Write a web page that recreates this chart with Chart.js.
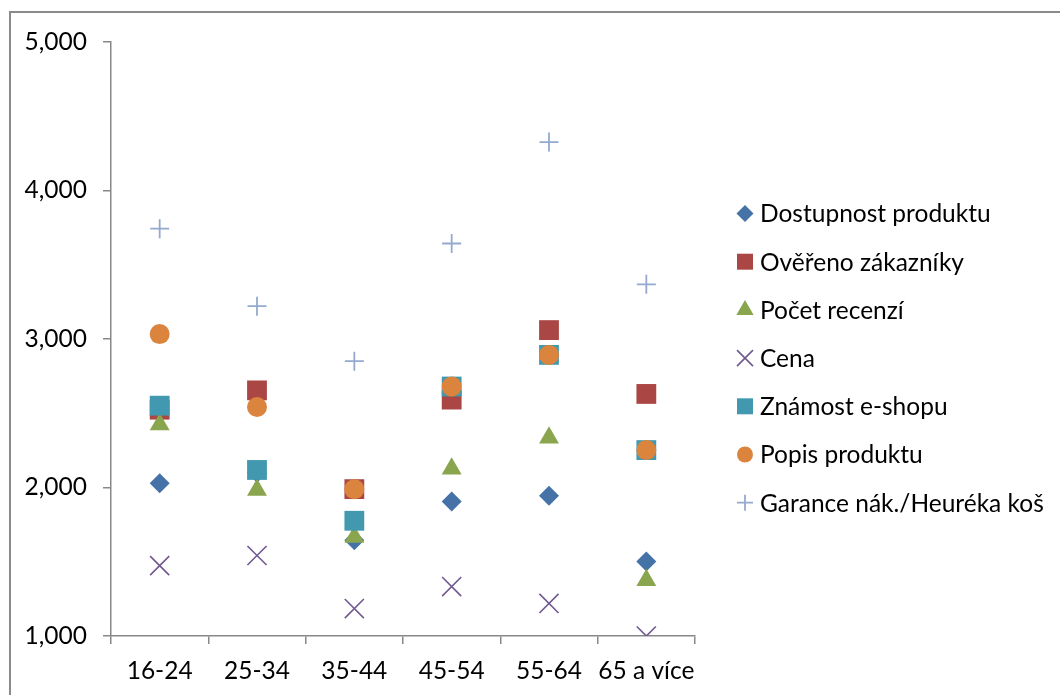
<!DOCTYPE html>
<html>
<head>
<meta charset="utf-8">
<title>Faktory podle věku</title>
<script src="https://cdn.jsdelivr.net/npm/chart.js@4.4.1/dist/chart.umd.min.js"></script>
<style>
  html, body { margin: 0; padding: 0; background: #fff; }
  #wrap { position: relative; width: 1060px; height: 695px; overflow: hidden; }
  #frame { position: absolute; left: 9px; top: 11px; width: 1200px; height: 800px; border: 2px solid #8a8a8a; box-sizing: border-box; }
  #myChart { position: absolute; left: 0; top: 0; }
</style>
</head>
<body>
<div id="wrap">
  <div id="frame"></div>
  <canvas id="myChart" width="1060" height="695"></canvas>
</div>
<script>
// data
const categories = ['16-24', '25-34', '35-44', '45-54', '55-64', '65 a více'];
const dostupnost = [2029, 2100, 1645, 1906, 1944, 1501];
const overeno = [2524, 2654, 1989, 2592, 3060, 2630];
const pocetRecenzi = [2425, 1984, 1667, 2127, 2335, 1376];
const cena = [1474, 1542, 1185, 1333, 1219, 1000];
const znamost = [2551, 2118, 1776, 2680, 2893, 2252];
const popis = [3033, 2542, 1989, 2680, 2893, 2252];
const garance = [3743, 3221, 2851, 3643, 4326, 3368];
const yTicks = [1000, 2000, 3000, 4000, 5000];

const FONT = 'Lato';
const FONT_SIZE = 24.5;
const AXIS = '#888888';

// series: label, values, style, colour, plot radius, legend radius, line width
const series = [
  ['Dostupnost produktu', dostupnost, 'rectRot', '#4572A7', 10, 8.5, 0],
  ['Ověřeno zákazníky', overeno, 'rect', '#AA4643', 14, 11.3, 0],
  ['Počet recenzí', pocetRecenzi, 'triangle', '#89A54E', 11.5, 10, 0],
  ['Cena', cena, 'crossRot', '#71588F', 13.5, 11.3, 1.6],
  ['Známost e-shopu', znamost, 'rect', '#4198AF', 14, 11.3, 0],
  ['Popis produktu', popis, 'circle', '#DB843D', 10, 8, 0],
  ['Garance nák./Heuréka koš', garance, 'cross', '#93A9CF', 9.5, 8, 1.8]
];

const datasets = series.map((s, i) => ({
  label: s[0],
  data: s[1],
  showLine: false,
  pointStyle: s[2],
  backgroundColor: s[3],
  borderColor: s[3],
  pointBackgroundColor: s[3],
  pointBorderColor: s[3],
  pointRadius: s[4],
  pointHoverRadius: s[4],
  pointBorderWidth: s[6],
  legendRadius: s[5],
  legendLine: s[6],
  order: series.length - i   // later series on top, like the original
}));

// legend drawn by hand on the right side
const sideLegend = {
  id: 'sideLegend',
  afterDraw(chart) {
    const ctx = chart.ctx;
    ctx.save();
    chart.data.datasets.forEach((ds, i) => {
      const y = 213.5 + i * 48.2;
      ctx.fillStyle = ds.backgroundColor;
      ctx.strokeStyle = ds.borderColor;
      ctx.lineWidth = ds.legendLine;
      Chart.helpers.drawPoint(ctx, {
        pointStyle: ds.pointStyle,
        radius: ds.legendRadius,
        borderWidth: ds.legendLine,
        rotation: 0
      }, 745, y);
      ctx.fillStyle = '#000';
      ctx.font = FONT_SIZE + 'px ' + FONT;
      ctx.textBaseline = 'middle';
      ctx.textAlign = 'left';
      ctx.fillText(ds.label, 760, y + 1);
    });
    ctx.restore();
  }
};

const ctx = document.getElementById('myChart');

new Chart(ctx, {
  type: 'line',
  data: {
    labels: categories,
    datasets: datasets
  },
  plugins: [sideLegend],
  options: {
    responsive: false,
    animation: false,
    devicePixelRatio: 1,
    layout: { padding: { left: 0, top: 42, right: 365, bottom: 0 } },
    plugins: {
      legend: { display: false },
      tooltip: { enabled: false }
    },
    scales: {
      x: {
        offset: true,
        grid: { offset: true, drawOnChartArea: false, drawTicks: true, tickLength: 8, color: AXIS, lineWidth: 1.5 },
        border: { display: true, color: AXIS, width: 1.5 },
        ticks: { color: '#000', font: { family: FONT, size: FONT_SIZE }, padding: 12, maxRotation: 0, autoSkip: false },
        afterFit(scale) { scale.height = 59; }
      },
      y: {
        min: 1000,
        max: 5000,
        afterBuildTicks(scale) { scale.ticks = yTicks.map(v => ({ value: v })); },
        grid: { drawOnChartArea: false, drawTicks: true, tickLength: 8, color: AXIS, lineWidth: 1.5 },
        border: { display: true, color: AXIS, width: 1.5 },
        ticks: {
          color: '#000',
          font: { family: FONT, size: FONT_SIZE },
          padding: 16,
          callback: v => v.toLocaleString('en-US')
        },
        afterFit(scale) { scale.width = 111; }
      }
    }
  }
});
</script>
</body>
</html>
